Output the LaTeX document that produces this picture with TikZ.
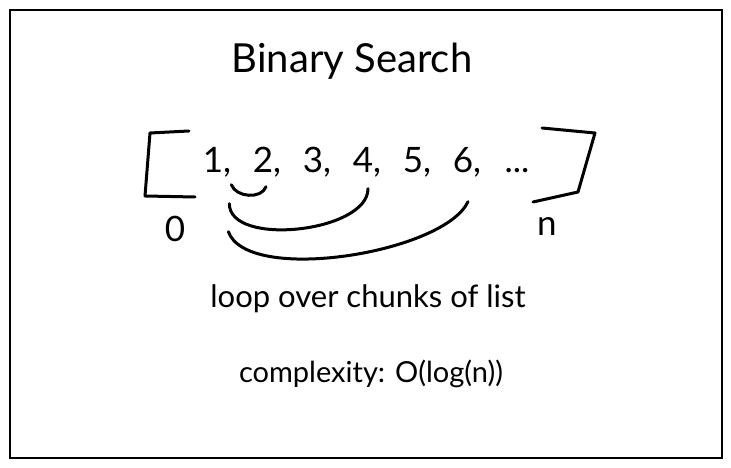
\documentclass[tikz,border=0pt]{standalone}
\usepackage{fontspec}
\setmainfont{Lato}
\usetikzlibrary{positioning,calc}

\begin{document}
\begin{tikzpicture}[x=1pt, y=1pt, node distance=50pt,
  num/.style={inner sep=0pt, font=\fontsize{35}{40}\selectfont,
    text height=26pt, text depth=7pt},
  brk/.style={line width=3pt, line cap=round, line join=round},
  chunk/.style={line width=3pt, line cap=round}]
\useasboundingbox (0,0) rectangle (731,468);
\draw[line width=1.8pt] (10,10) rectangle (722,458);

\node (title) [anchor=base, font=\fontsize{40}{46}\selectfont] at (352,395) {Binary Search};

% the list
\node (n1) [num] at (217,305) {1,};
\node (n2) [num, right of=n1] {2,};
\node (n3) [num, right of=n2] {3,};
\node (n4) [num, right of=n3] {4,};
\node (n5) [num, right of=n4] {5,};
\node (n6) [num, right of=n5] {6,};
\node (dots) [num, right of=n6] {...};

\draw[brk] (189,337) -- (150,335) -- (145,272) -- (195,271);
\draw[brk] (542,340) -- (595,335) -- (578,276) -- (533,266);

\node (lo) [num] at (175,236) {0};
\node (hi) [num] at (547,242) {n};

% chunks
\draw[chunk] ($(n1.south east)+(0,-5)$) to[out=-70, in=-110]
  ($(n2.south)+(-1,-7)$);
\draw[chunk] ($(n1.south east)+(-2,-24)$) to[out=-90, in=-90, looseness=0.8]
  ($(n4.south)+(1,-9)$);
\draw[chunk] ($(n1.south east)+(-3,-52)$) to[out=-70, in=-115, looseness=0.6]
  ($(n6.south)+(1,-22)$);

\node (loop) [anchor=base, font=\fontsize{31}{36}\selectfont] at (368,160)
  {loop over chunks of list};
\node (cplx) [anchor=base, font=\fontsize{29}{34}\selectfont] at (371,85)
  {complexity: O(log(n))};
\end{tikzpicture}
\end{document}
